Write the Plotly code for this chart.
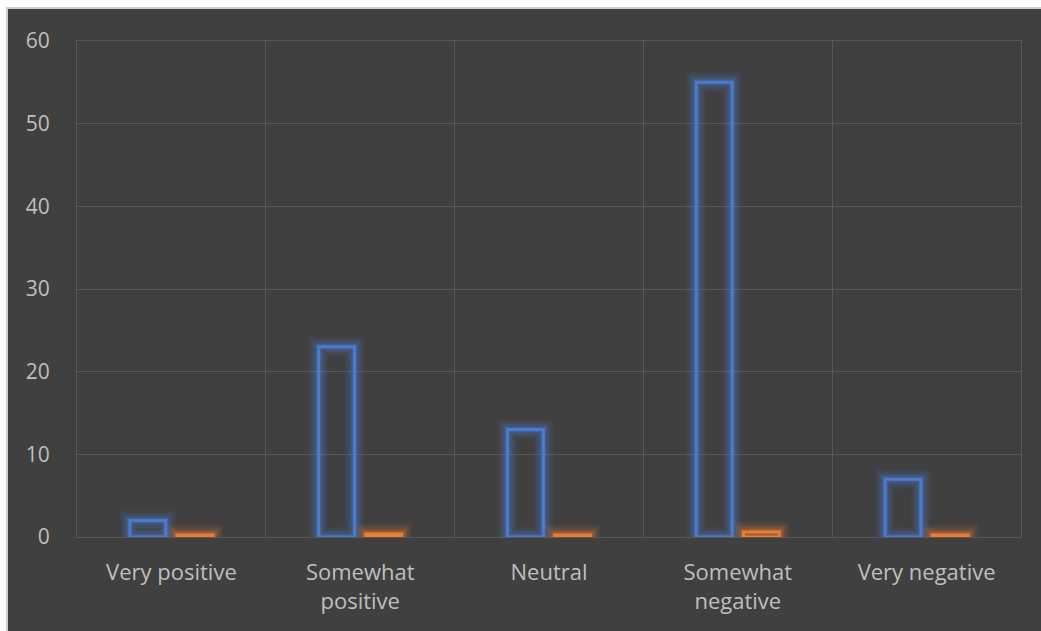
import plotly.graph_objects as go

# Survey response distribution
categories = ["Very positive", "Somewhat<br>positive", "Neutral", "Somewhat<br>negative", "Very negative"]
series_a = [2, 23, 13, 55, 7]
series_b = [0.25, 0.35, 0.25, 0.6, 0.25]
y_ticks = [0, 10, 20, 30, 40, 50, 60]

BG = "#404040"
GRID = "#585858"
TEXT = "#bfbfbf"
BLUE = "#4a7bd0"
ORANGE = "#ed7d31"

W, H = 1041, 631
ML, MR, MT, MB = 77, 20, 41, 94
PW, PH = W - ML - MR, H - MT - MB

BAR_W = 0.19


def px_x(px):
    return (px - ML) / PW


def px_y(py):
    return (H - MB - py) / PH


fig = go.Figure()


def add_glow_bars(values, color_rgb, offset):
    # soft halo: stacked translucent outlines of decreasing width
    for lw, alpha in [(20, 0.08), (15, 0.12), (10, 0.18), (6, 0.25)]:
        fig.add_trace(go.Bar(
            x=categories, y=values, width=BAR_W, offset=offset,
            marker=dict(color="rgba(0,0,0,0)",
                        line=dict(color=f"rgba({color_rgb},{alpha})", width=lw)),
            hoverinfo="skip", showlegend=False,
        ))


add_glow_bars(series_a, "74,123,208", -0.22)
add_glow_bars(series_b, "237,125,49", 0.03)

fig.add_trace(go.Bar(
    x=categories, y=series_a, width=BAR_W, offset=-0.22,
    marker=dict(color="rgba(0,0,0,0)", line=dict(color=BLUE, width=3)),
    showlegend=False, name="Series 1",
))
fig.add_trace(go.Bar(
    x=categories, y=series_b, width=BAR_W, offset=0.03,
    marker=dict(color="rgba(0,0,0,0)", line=dict(color=ORANGE, width=3)),
    showlegend=False, name="Series 2",
))

# page frame: white edge with a light grey border along top and left
shapes = [
    dict(type="rect", xref="paper", yref="paper", x0=-0.2, x1=1.2,
         y0=px_y(7), y1=1.3, fillcolor="white", line_width=0, layer="below"),
    dict(type="rect", xref="paper", yref="paper", x0=-0.2, x1=px_x(6),
         y0=-0.4, y1=1.3, fillcolor="white", line_width=0, layer="below"),
    dict(type="rect", xref="paper", yref="paper", x0=px_x(6), x1=1.2,
         y0=px_y(9), y1=px_y(7), fillcolor="#d0d0d0", line_width=0, layer="below"),
    dict(type="rect", xref="paper", yref="paper", x0=px_x(6), x1=px_x(8),
         y0=-0.4, y1=px_y(7), fillcolor="#d0d0d0", line_width=0, layer="below"),
]

fig.update_layout(
    width=W, height=H,
    margin=dict(l=ML, r=MR, t=MT, b=MB, pad=0),
    paper_bgcolor=BG, plot_bgcolor=BG,
    barmode="overlay",
    font=dict(family="Open Sans", size=21, color=TEXT),
    shapes=shapes,
    xaxis=dict(
        type="category", tickson="boundaries", showgrid=True,
        gridcolor=GRID, gridwidth=1, ticks="", ticklen=0,
        showline=True, linecolor=GRID, linewidth=1, mirror=True,
        tickfont=dict(size=22, color=TEXT), ticklabelstandoff=16,
        range=[-0.5, 4.5],
    ),
    yaxis=dict(
        range=[0, 60], tickvals=y_ticks, showgrid=True,
        gridcolor=GRID, gridwidth=1, zeroline=True, zerolinecolor=GRID,
        zerolinewidth=1, showline=True, linecolor=GRID, linewidth=1, mirror=True,
        ticks="", tickfont=dict(size=21, color=TEXT), ticklabelstandoff=22,
    ),
)

fig.write_html("out.html")
